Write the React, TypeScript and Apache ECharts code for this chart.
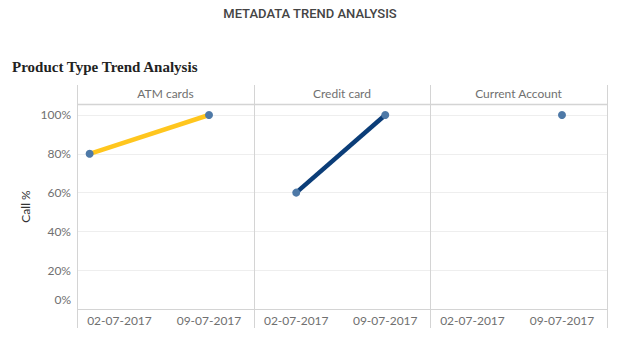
import React, { useEffect, useRef } from "react";
import * as echarts from "echarts";

const panels = ["ATM cards", "Credit card", "Current Account"];
const atmDates = ["2017-06-29T16:00:00Z", "2017-07-09T00:00:00Z"];
const atmValues = [80, 100];
const creditDates = ["2017-07-02T00:00:00Z", "2017-07-09T00:00:00Z"];
const creditValues = [60, 100];
const currentDates = ["2017-07-09T00:00:00Z"];
const currentValues = [100];
const xTickDates = ["2017-07-02T00:00:00Z", "2017-07-09T00:00:00Z"];
const yTicks = [0, 20, 40, 60, 80, 100];

const DAY = 86400000;
const T = (s: string) => Date.parse(s);
const pad = (n: number) => (n < 10 ? "0" + n : "" + n);
const fmtDate = (v: number) => {
  const d = new Date(v);
  return pad(d.getUTCDate()) + "-" + pad(d.getUTCMonth() + 1) + "-" + d.getUTCFullYear();
};

export default function App() {
  const ref = useRef<HTMLDivElement>(null);
  useEffect(() => {
    if (!ref.current) return;
    const chart = echarts.init(ref.current, null, { renderer: "svg" });
    const edges = [77, 254, 430, 607];
    const top = 104;
    const height = 205;
    const xMin = T(xTickDates[0]) - 3.32 * DAY;
    const xMax = T(xTickDates[0]) + 10.52 * DAY;
    const labelFont = "Lato, 'Open Sans', sans-serif";
    const labelColor = "#707070";
    const gridColor = "#d4d4d4";

    const grids = panels.map((_, i) => ({
      left: edges[i],
      top,
      width: edges[i + 1] - edges[i],
      height,
    }));
    const xAxes = panels.map((_, i) => ({
      type: "value",
      gridIndex: i,
      min: xMin,
      max: xMax,
      axisLine: { show: false },
      axisTick: { show: false },
      splitLine: { show: false },
      axisLabel: {
        customValues: xTickDates.map(T),
        formatter: (v: number) => fmtDate(v),
        color: labelColor,
        fontSize: 12,
        fontFamily: labelFont,
        margin: 5,
      },
    }));
    const yAxes = panels.map((_, i) => ({
      type: "value",
      gridIndex: i,
      min: 0,
      max: 105.67,
      interval: 20,
      name: i === 0 ? "Call %" : "",
      nameLocation: "middle",
      nameGap: 46,
      nameTextStyle: { color: "#333", fontSize: 12, fontFamily: labelFont },
      axisLine: { show: false },
      axisTick: { show: false },
      splitLine: { show: true, lineStyle: { color: "#eeeeee", width: 1 } },
      axisLabel: {
        show: i === 0,
        showMaxLabel: false,
        verticalAlignMinLabel: "bottom",
        formatter: (v: number) =>
          v === 0 ? "{z|0%}" : yTicks.indexOf(v) >= 0 ? v + "%" : "",
        rich: {
          z: {
            padding: [0, 0, 4, 0],
            color: labelColor,
            fontSize: 12,
            fontFamily: labelFont,
          },
        },
        color: labelColor,
        fontSize: 12,
        fontFamily: labelFont,
        margin: 6,
      },
    }));

    const mkSeries = (i: number, dates: string[], values: number[], color: string) => ({
      type: "line",
      xAxisIndex: i,
      yAxisIndex: i,
      data: dates.map((d, k) => [T(d), values[k]]),
      symbol: "circle",
      symbolSize: 8,
      showSymbol: true,
      itemStyle: { color: "#4E79A7" },
      lineStyle: { color, width: 4.5 },
      z: 3,
    });

    const lines: any[] = [];
    edges.forEach((x) => {
      lines.push({
        type: "line",
        shape: { x1: x + 0.5, y1: 85, x2: x + 0.5, y2: 328 },
        style: { stroke: gridColor, lineWidth: 1 },
        z: 10,
      });
    });
    lines.push({
      type: "line",
      shape: { x1: edges[0], y1: top + 0.5, x2: edges[3] + 1, y2: top + 0.5 },
      style: { stroke: gridColor, lineWidth: 1.5 },
      z: 10,
    });
    lines.push({
      type: "line",
      shape: { x1: edges[0], y1: top + height + 0.5, x2: edges[3] + 1, y2: top + height + 0.5 },
      style: { stroke: gridColor, lineWidth: 1 },
      z: 10,
    });

    chart.setOption({
      animation: false,
      backgroundColor: "#ffffff",
      title: [
        {
          text: "METADATA TREND ANALYSIS",
          left: 310,
          top: 7,
          padding: 0,
          textAlign: "center",
          textStyle: { fontFamily: "Roboto", fontSize: 13, fontWeight: 500, color: "#444" },
        },
        {
          text: "Product Type Trend Analysis",
          left: 12,
          top: 59,
          padding: 0,
          textStyle: {
            fontFamily: "'Liberation Serif', serif",
            fontSize: 15,
            fontWeight: "bold",
            color: "#222",
          },
        },
        ...panels.map((p, i) => ({
          text: p,
          left: (edges[i] + edges[i + 1]) / 2,
          top: 87,
          padding: 0,
          textAlign: "center",
          textStyle: { fontFamily: labelFont, fontSize: 12, fontWeight: "normal", color: labelColor },
        })),
      ],
      grid: grids,
      xAxis: xAxes,
      yAxis: yAxes,
      series: [
        mkSeries(0, atmDates, atmValues, "#FFC61E"),
        mkSeries(1, creditDates, creditValues, "#0B3D78"),
        mkSeries(2, currentDates, currentValues, "#0B3D78"),
      ],
      graphic: lines,
    });
    return () => chart.dispose();
  }, []);
  return (
    <div
      ref={ref}
      style={{ position: "fixed", left: 0, top: 0, width: 617, height: 342, background: "#fff" }}
    />
  );
}
